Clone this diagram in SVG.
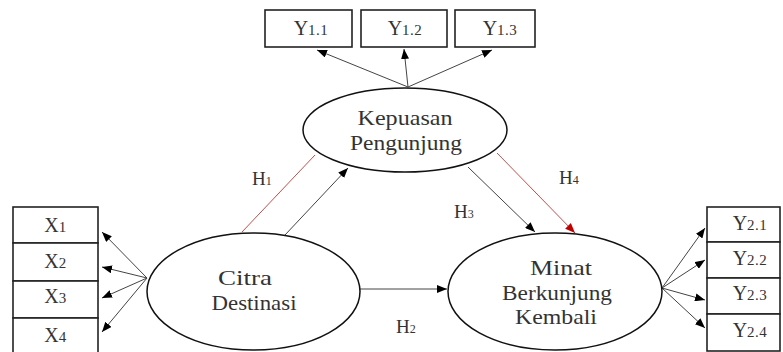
<svg xmlns="http://www.w3.org/2000/svg" width="783" height="352" viewBox="0 0 783 352">
<defs>
<marker id="ah" markerUnits="userSpaceOnUse" markerWidth="10" markerHeight="8" refX="10" refY="4" orient="auto"><path d="M0,0 L10,4 L0,8 z" fill="#000"/></marker>
<marker id="ahr" markerUnits="userSpaceOnUse" markerWidth="10" markerHeight="8" refX="10" refY="4" orient="auto"><path d="M0,0 L10,4 L0,8 z" fill="#c00000"/></marker>
<style>
.box{fill:#fff;stroke:#222;stroke-width:1.6}
.ell{fill:#fff;stroke:#111;stroke-width:1.5}
.t{font-family:"Liberation Serif","Times New Roman",serif;fill:#333;font-size:22px;text-anchor:middle}
.lb{font-family:"Liberation Serif","Times New Roman",serif;fill:#333;font-size:20px;text-anchor:middle}
.s{font-size:15px;letter-spacing:0.5px}
.h{font-family:"Liberation Serif","Times New Roman",serif;fill:#333;font-size:19px}
.c{stroke:#444;stroke-width:1;fill:none;marker-end:url(#ah)}
.r{stroke:#c0504d;stroke-width:1;fill:none}
</style>
</defs>
<g id="connectors">
<line class="c" x1="408" y1="87" x2="317" y2="50"/>
<line class="c" x1="408" y1="87" x2="404" y2="49"/>
<line class="c" x1="408" y1="87" x2="492" y2="50"/>
<line class="c" x1="147" y1="278" x2="102" y2="232"/>
<line class="c" x1="147" y1="278" x2="102" y2="267"/>
<line class="c" x1="147" y1="278" x2="102" y2="298"/>
<line class="c" x1="147" y1="278" x2="102" y2="332"/>
<line class="c" x1="662" y1="288" x2="705" y2="228"/>
<line class="c" x1="662" y1="288" x2="705" y2="260"/>
<line class="c" x1="662" y1="288" x2="705" y2="300"/>
<line class="c" x1="662" y1="288" x2="705" y2="328"/>
<line class="c" x1="360" y1="289" x2="447" y2="289"/>
<line class="c" x1="285" y1="235" x2="348" y2="168"/>
<line class="r" x1="242" y1="232" x2="315" y2="155"/>
<line class="c" x1="468" y1="167" x2="535" y2="232"/>
<line class="r" x1="497" y1="153" x2="575" y2="233" marker-end="url(#ahr)"/>
</g>
<g id="labels">
<text class="h" x="252" y="185">H<tspan font-size="12">1</tspan></text>
<text class="h" x="396" y="333">H<tspan font-size="12">2</tspan></text>
<text class="h" x="454" y="218">H<tspan font-size="12">3</tspan></text>
<text class="h" x="559" y="184">H<tspan font-size="12">4</tspan></text>
</g>
<g id="Y11"><rect class="box" x="265" y="10" width="87" height="37"/><text class="lb" x="311" y="35">Y<tspan class="s">1.1</tspan></text></g>
<g id="Y12"><rect class="box" x="361" y="10" width="86" height="37"/><text class="lb" x="405" y="35">Y<tspan class="s">1.2</tspan></text></g>
<g id="Y13"><rect class="box" x="455" y="10" width="80" height="37"/><text class="lb" x="500" y="35">Y<tspan class="s">1.3</tspan></text></g>
<g id="X"><rect class="box" x="13" y="207" width="85" height="36"/><text class="lb" x="55.5" y="232">X<tspan class="s">1</tspan></text>
<rect class="box" x="13" y="243" width="85" height="38"/><text class="lb" x="55.5" y="268">X<tspan class="s">2</tspan></text>
<rect class="box" x="13" y="281" width="85" height="37"/><text class="lb" x="55.5" y="303">X<tspan class="s">3</tspan></text>
<rect class="box" x="13" y="318" width="85" height="40"/><text class="lb" x="55.5" y="342">X<tspan class="s">4</tspan></text></g>
<g id="Y2"><rect class="box" x="707" y="207" width="73" height="35"/><text class="lb" x="750" y="230">Y<tspan class="s">2.1</tspan></text>
<rect class="box" x="707" y="242" width="73" height="36"/><text class="lb" x="750" y="265">Y<tspan class="s">2.2</tspan></text>
<rect class="box" x="707" y="278" width="73" height="36"/><text class="lb" x="750" y="300">Y<tspan class="s">2.3</tspan></text>
<rect class="box" x="707" y="314" width="73" height="37"/><text class="lb" x="750" y="337">Y<tspan class="s">2.4</tspan></text></g>
<g id="kepuasan"><ellipse class="ell" cx="405" cy="130" rx="102" ry="42"/>
<text class="t" x="405" y="125" textLength="95" lengthAdjust="spacingAndGlyphs">Kepuasan</text>
<text class="t" x="406" y="150" textLength="112" lengthAdjust="spacingAndGlyphs">Pengunjung</text></g>
<g id="citra"><ellipse class="ell" cx="253.5" cy="291.5" rx="106.5" ry="58.5"/>
<text class="t" x="245" y="285" textLength="54" lengthAdjust="spacingAndGlyphs">Citra</text>
<text class="t" x="254" y="310" textLength="85" lengthAdjust="spacingAndGlyphs">Destinasi</text></g>
<g id="minat"><ellipse class="ell" cx="555" cy="291.5" rx="107" ry="58.5"/>
<text class="t" x="561" y="275" textLength="62" lengthAdjust="spacingAndGlyphs">Minat</text>
<text class="t" x="557" y="300" textLength="110" lengthAdjust="spacingAndGlyphs">Berkunjung</text>
<text class="t" x="556" y="324" textLength="82" lengthAdjust="spacingAndGlyphs">Kembali</text></g>
</svg>
